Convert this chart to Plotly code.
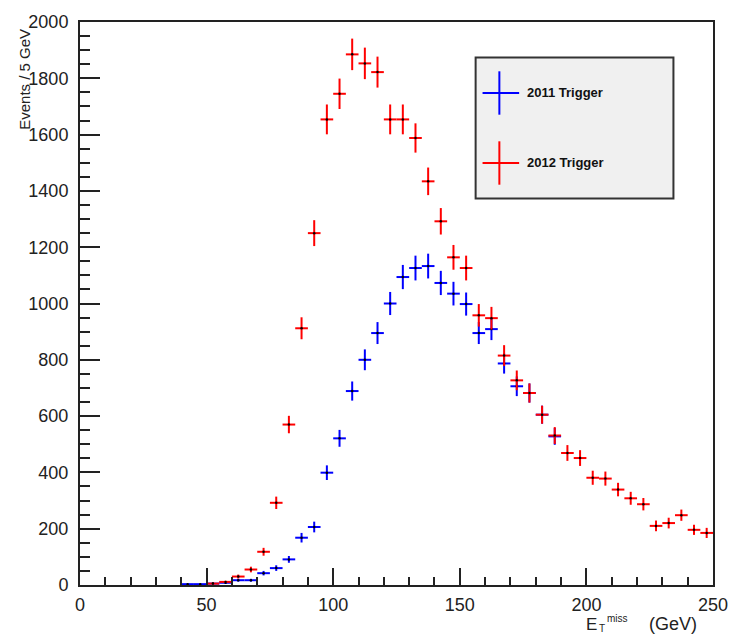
import plotly.graph_objects as go

# ---- data (5 GeV bins, bin centres) ----
x_2011 = [42.5, 47.5, 52.5, 57.5, 62.5, 67.5, 72.5, 77.5, 82.5, 87.5,
          92.5, 97.5, 102.5, 107.5, 112.5, 117.5, 122.5, 127.5, 132.5, 137.5,
          142.5, 147.5, 152.5, 157.5, 162.5, 167.5, 172.5, 177.5, 182.5, 187.5]
y_2011 = [3, 3, 5, 8, 17, 17, 42, 60, 91, 168,
          206, 399, 521, 689, 800, 895, 1000, 1094, 1126, 1133,
          1073, 1035, 998, 895, 909, 787, 706, 682, 605, 528]
e_2011 = [2, 2, 3, 4, 5, 5, 8, 10, 12, 17,
          19, 26, 30, 34, 37, 39, 41, 43, 44, 44,
          43, 42, 41, 39, 39, 36, 35, 34, 32, 30]

x_2012 = [52.5, 57.5, 62.5, 67.5, 72.5, 77.5, 82.5, 87.5, 92.5, 97.5,
          102.5, 107.5, 112.5, 117.5, 122.5, 127.5, 132.5, 137.5, 142.5, 147.5,
          152.5, 157.5, 162.5, 167.5, 172.5, 177.5, 182.5, 187.5, 192.5, 197.5,
          202.5, 207.5, 212.5, 217.5, 222.5, 227.5, 232.5, 237.5, 242.5, 247.5]
y_2012 = [5, 11, 30, 55, 118, 292, 570, 912, 1250, 1654,
          1745, 1885, 1853, 1822, 1654, 1654, 1588, 1434, 1292, 1164,
          1126, 958, 948, 815, 727, 682, 605, 531, 469, 451,
          381, 378, 339, 308, 287, 210, 220, 248, 196, 185]
e_2012 = [3, 4, 7, 10, 14, 22, 31, 39, 46, 53,
          54, 56, 56, 55, 53, 53, 52, 49, 47, 44,
          44, 40, 40, 37, 35, 34, 32, 30, 28, 28,
          25, 25, 24, 23, 22, 19, 19, 20, 18, 18]

half_bin = 2.5
labels = ["2011 Trigger", "2012 Trigger"]
colors = ["#0000ff", "#ff0000"]

# ---- geometry helpers (plot area in px) ----
W, H = 740, 635
L, R, T, B = 80, 20, 14, 50
PW, PH = W - L - R, H - T - B


def px(xp):
    return (xp - L) / PW


def py(yp):
    return (H - B - yp) / PH


fig = go.Figure()
for xs, ys, es, c, name in [(x_2011, y_2011, e_2011, colors[0], labels[0]),
                            (x_2012, y_2012, e_2012, colors[1], labels[1])]:
    fig.add_trace(go.Scatter(
        x=xs, y=ys, mode="markers", name=name, showlegend=False,
        marker=dict(color="black", size=2.5, line=dict(width=0)),
        error_x=dict(type="constant", value=half_bin, color=c, thickness=2, width=0),
        error_y=dict(type="data", array=es, color=c, thickness=2, width=0),
    ))

axis_col = "#222222"
tf = "Liberation Sans, Arial, sans-serif"
tick_font = dict(family=tf, size=18, color="#222222")

fig.update_xaxes(
    range=[0, 250], tick0=0, dtick=50, ticks="inside", ticklen=17, tickwidth=2,
    tickcolor=axis_col, showline=True, linecolor=axis_col, linewidth=2, mirror=True,
    showgrid=False, zeroline=False, tickfont=tick_font, ticklabelstandoff=2,
    minor=dict(ticks="inside", ticklen=8, dtick=10, tickwidth=2, tickcolor=axis_col, showgrid=False),
)
fig.update_yaxes(
    range=[0, 2000], tick0=0, dtick=200, ticks="inside", ticklen=20, tickwidth=2,
    tickcolor=axis_col, showline=True, linecolor=axis_col, linewidth=2, mirror=True,
    showgrid=False, zeroline=False, tickfont=tick_font, ticklabelstandoff=6,
    minor=dict(ticks="inside", ticklen=10, dtick=50, tickwidth=2, tickcolor=axis_col, showgrid=False),
)

shapes = []
annotations = []
# legend box
shapes.append(dict(type="rect", xref="paper", yref="paper",
                   x0=px(480), x1=px(680), y0=py(193), y1=py(50),
                   fillcolor="#f0f0f0", line=dict(color="#333333", width=2), layer="above"))
for i, (c, lab) in enumerate(zip(colors, labels)):
    cy = 86 + i * 71
    shapes.append(dict(type="line", xref="paper", yref="paper",
                       x0=px(504), x1=px(504), y0=py(cy + 22), y1=py(cy - 22),
                       line=dict(color=c, width=2)))
    shapes.append(dict(type="line", xref="paper", yref="paper",
                       x0=px(487), x1=px(524), y0=py(cy), y1=py(cy),
                       line=dict(color=c, width=2)))
    annotations.append(dict(xref="paper", yref="paper", x=px(530), y=py(cy),
                            xanchor="left", yanchor="middle", showarrow=False,
                            text="<b>%s</b>" % lab,
                            font=dict(family=tf, size=13, color="#111111")))

# y-axis title
annotations.append(dict(xref="paper", yref="paper", x=px(24), y=py(72),
                        xanchor="center", yanchor="middle", showarrow=False, textangle=-90,
                        text="Events / 5 GeV",
                        font=dict(family=tf, size=15, color="#222222")))
# x-axis title  E_T^miss (GeV)
annotations.append(dict(xref="paper", yref="paper", x=px(597), y=py(625), xanchor="center",
                        yanchor="middle", showarrow=False, text="E",
                        font=dict(family=tf, size=17, color="#222222")))
annotations.append(dict(xref="paper", yref="paper", x=px(611), y=py(619), xanchor="left",
                        yanchor="middle", showarrow=False, text="miss",
                        font=dict(family=tf, size=10, color="#222222")))
annotations.append(dict(xref="paper", yref="paper", x=px(603), y=py(629), xanchor="left",
                        yanchor="middle", showarrow=False, text="T",
                        font=dict(family=tf, size=10, color="#222222")))
annotations.append(dict(xref="paper", yref="paper", x=px(680), y=py(625), xanchor="center",
                        yanchor="middle", showarrow=False, text="(GeV)",
                        font=dict(family=tf, size=18, color="#222222")))

fig.update_layout(
    width=W, height=H, margin=dict(l=L, r=R, t=T, b=B, pad=0),
    paper_bgcolor="white", plot_bgcolor="white",
    shapes=shapes, annotations=annotations, showlegend=False,
)

fig.write_html("out.html")
